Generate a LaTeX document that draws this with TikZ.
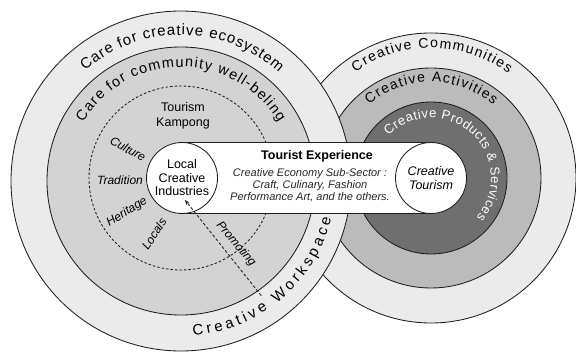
\documentclass[tikz,border=0pt]{standalone}
\usepackage{fontspec}
\setmainfont{Liberation Sans}
\usetikzlibrary{decorations.text,arrows.meta}

\definecolor{ringlight}{HTML}{EBEBEB}
\definecolor{ringmid}{HTML}{D3D3D3}
\definecolor{actgray}{HTML}{BBBBBB}
\definecolor{prodgray}{HTML}{6F6F6F}
\definecolor{edge}{HTML}{1E1E1E}

\newcommand\bigringfont{\fontsize{15}{17}\selectfont}
\newcommand\midringfont{\fontsize{14.5}{17}\selectfont}
\newcommand\rightringfont{\fontsize{14}{16}\selectfont}
\newcommand\prodfont{\fontsize{13}{15}\selectfont}

\tikzset{
  ring/.style={draw=edge, line width=0.85pt},
  ringtext/.style={decorate, decoration={text along path, text align=fit to path, text={#1}}},
  circ/.style={circle, draw=edge, line width=0.85pt, fill=white, minimum size=71, inner sep=0pt,
    align=center, font=\fontsize{12.5}{13.5}\selectfont},
  plain/.style={align=center, inner sep=0pt, font=\fontsize{12.5}{14.5}\selectfont},
  value/.style={inner sep=0pt, font=\fontsize{12}{14}\selectfont\itshape},
  sector/.style={align=center, inner sep=0pt, text=black!85, font=\fontsize{11}{12}\selectfont\itshape},
  promo/.style={draw=edge, line width=0.85pt, densely dashed, -{Stealth[length=5pt, width=4pt]}}
}

\begin{document}
\begin{tikzpicture}[x=1pt, y=1pt]
  \useasboundingbox (0,0) rectangle (576,354);

  % centres
  \coordinate (eco) at (181,173);
  \coordinate (kamp) at (181,176);
  \coordinate (comm) at (431,176);

  % right rings
  \draw [ring, fill=ringlight] (comm) circle (145);
  \draw [ring, fill=actgray] (comm) circle (110);
  \draw [ring, fill=prodgray] (comm) circle (76);

  % left rings
  \draw [ring, fill=ringlight] (eco) circle (170);
  \draw [ring, fill=ringmid] (eco) circle (134);
  \draw [ring, dash pattern=on 2.5pt off 2pt] (kamp) circle (92);

  % texts on the rings
  \path [ringtext={|\bigringfont|Care for creative ecosystem}]
    (eco) ++(131:146) arc [start angle=131, end angle=48, radius=146];
  \path [ringtext={|\midringfont|Care for community well-beling}]
    (eco) ++(149:114) arc [start angle=149, end angle=31, radius=114];
  \path [ringtext={|\bigringfont|Creative Workspace}]
    (eco) ++(-85.5:155) arc [start angle=-85.5, end angle=-14, radius=155];
  \path [ringtext={|\rightringfont|Creative Communities}]
    (comm) ++(125.5:130) arc [start angle=125.5, end angle=53.5, radius=130];
  \path [ringtext={|\rightringfont|Creative Activities}]
    (comm) ++(130:96) arc [start angle=130, end angle=49.5, radius=96];
  \path [decorate, decoration={text along path, text align=fit to path, text color=white,
      text={|\prodfont|Creative Products {\&} Services}}]
    (comm) ++(135:60) arc [start angle=135, end angle=-41, radius=60];

  % kampong
  \node [plain] (kampong) at (183,238) {Tourism\\Kampong};
  \node [value, rotate=-29] (culture) at (128,205) {Culture};
  \node [value] (tradition) at (120,174) {Tradition};
  \node [value, rotate=32] (heritage) at (127,142) {Heritage};
  \node [value, rotate=57] (locals) at (154,120) {Locals};
  \node [value, rotate=-50] (promoting) at (236,110) {Promoting};

  % tourist experience bar
  \fill [white] (182,140.5) rectangle (431,211.5);
  \draw [ring] (182,211.5) -- (431,211.5) (182,140.5) -- (431,140.5);
  \node [circ] (local) at (182,176) {Local\\Creative\\Industries};
  \node [circ, font=\fontsize{12.5}{13.5}\selectfont\itshape] (ctour) at (431,176) {Creative\\Tourism};
  \node [inner sep=0pt, font=\fontsize{12.5}{14}\selectfont\bfseries] (tourexp) at (317,198) {Tourist Experience};
  \node [sector] (subsector) at (310,169)
    {Creative Economy Sub-Sector :\\Craft, Culinary, Fashion\\Performance Art, and the others.};

  % promoting arrow
  \path (eco) ++(-55:140) coordinate (promostart);
  \coordinate (promoend) at (185,154);
  \draw [promo] (promostart) -- (promoend);
\end{tikzpicture}
\end{document}
